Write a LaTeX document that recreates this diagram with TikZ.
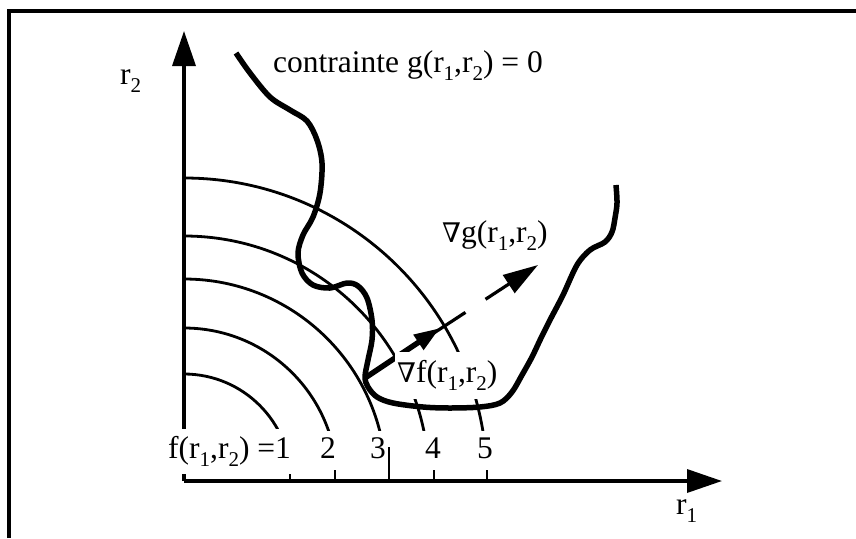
\documentclass[tikz,border=0pt]{standalone}
\usepackage{fontspec}
\setmainfont{Liberation Serif}
\newfontfamily\nablafont{DejaVu Serif}
\usetikzlibrary{arrows.meta}
\newcommand\sbs[1]{\raisebox{-0.28em}{\fontsize{21}{21}\selectfont #1}}
\newcommand\nab{{\nablafont\fontsize{27}{30}\selectfont ∇}}
\begin{document}
\begin{tikzpicture}[x=1pt,y=-1pt,
  lbl/.style={font=\fontsize{31.5}{36}\selectfont, inner sep=0pt},
  arcline/.style={line width=2.8pt},
  axisline/.style={line width=3.5pt},
  curveline/.style={line width=5.5pt, line join=round, line cap=butt},
  bigtip/.style={-{Triangle[length=35pt,width=23pt]}}]
\useasboundingbox (0,0) rectangle (856,538);
% frame
\draw[line width=3.5pt] (9,538) -- (9,11) -- (856,11);
\coordinate (O) at (184,481);
\coordinate (Xtip) at (722,481);
\coordinate (Ytip) at (184,31);
% level arcs
\begin{scope}
  \clip (184,0) rectangle (856,430);
  \foreach \r in {107,153,202,245,303} {
    \draw[arcline] (O) circle[radius=\r];
  }
\end{scope}
% axes
\draw[axisline, bigtip] (O) -- (Xtip);
\draw[axisline, bigtip] (O) -- (Ytip);
% ticks
\foreach \tx in {290,335,434,487} {
  \draw[line width=2.8pt] (\tx,481) -- (\tx,470);
}
\draw[line width=2.4pt] (389,481) -- (389,447);
% constraint curve
\draw[curveline] plot[smooth, tension=0.55] coordinates {
  (236,53) (250,73) (270,97) (290,110) (307,121) (317,140) (322,163)
  (320,193) (313,217) (303,235) (298,253) (302,273) (313,285) (330,288)
  (347,283) (358,286) (367,298) (372,320) (372,340) (368,360) (365,377)
  (368,387) (377,397) (393,403) (423,407) (450,408) (480,407) (500,403)
  (512,392) (522,375) (532,357) (541,338) (550,320) (563,295) (577,265)
  (590,250) (605,242) (612,232) (615,218) (617,203) (616,185)};
% gradients
\coordinate (P) at (365,378);
\coordinate (Gtip) at (538,265);
\coordinate (Ftip) at (440,328);
\draw[line width=3.2pt, dash pattern=on 120pt off 24pt,
      -{Triangle[length=35pt,width=21pt]}] (P) -- (Gtip);
\draw[line width=5.5pt, -{Triangle[length=26pt,width=17pt]}] (P) -- (Ftip);
% labels
\node[lbl, anchor=base west] (lc) at (273,72) {contrainte g(r\sbs{1},r\sbs{2}) = 0};
\node[lbl, anchor=base west] (lr2) at (120,84) {r\sbs{2}};
\node[lbl, anchor=base west] (lr1) at (676,514) {r\sbs{1}};
\node[lbl, anchor=base west] (lg) at (442,242) {\nab g(r\sbs{1},r\sbs{2})};
\node[lbl, anchor=base west, fill=white, inner xsep=2pt, inner ysep=8pt] (lf) at (395,382) {\nab f(r\sbs{1},r\sbs{2})};
\node[lbl, anchor=base west, fill=white, inner xsep=1pt, inner ysep=7pt] (lf1) at (167,458) {f(r\sbs{1},r\sbs{2}) =1};
\node[lbl, anchor=base] (l2) at (328,458) {2};
\node[lbl, anchor=base] (l3) at (378,458) {3};
\node[lbl, anchor=base] (l4) at (433,458) {4};
\node[lbl, anchor=base] (l5) at (485,458) {5};
\end{tikzpicture}
\end{document}
